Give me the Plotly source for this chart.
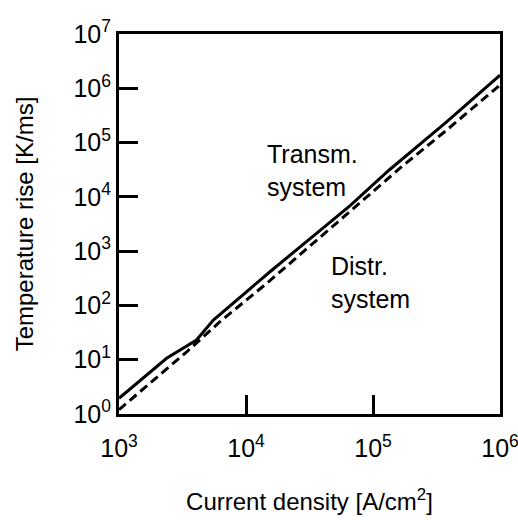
import plotly.graph_objects as go

# Transmission system (solid)
transm_x = [1000, 2371, 4074, 5534, 15450, 66070, 134900, 380000, 1000000]
transm_y = [1.95, 10.6, 23.1, 53.8, 417, 6920, 31600, 240000, 1740000]

# Distribution system (dashed)
distr_x = [1000, 1754, 3412, 6237, 14560, 168300, 380200, 1000000]
distr_y = [1.2, 3.67, 14.0, 50.1, 255, 35890, 169800, 1150000]

x_tickvals = [1e3, 1e4, 1e5, 1e6]
x_ticktext = ["10<sup>3</sup>", "10<sup>4</sup>", "10<sup>5</sup>", "10<sup>6</sup>"]
y_tickvals = [1e0, 1e1, 1e2, 1e3, 1e4, 1e5, 1e6, 1e7]
y_ticktext = ["10<sup>%d</sup>" % i for i in range(8)]

FONT = "Liberation Sans"

fig = go.Figure()
fig.add_trace(go.Scatter(x=transm_x, y=transm_y, mode="lines",
                         line=dict(color="black", width=3),
                         showlegend=False, hoverinfo="skip"))
fig.add_trace(go.Scatter(x=distr_x, y=distr_y, mode="lines",
                         line=dict(color="black", width=3, dash="9px,5px"),
                         showlegend=False, hoverinfo="skip"))

axis_common = dict(
    type="log", showgrid=False, zeroline=False, automargin=False,
    showline=True, linecolor="black", linewidth=3, mirror=True,
    ticks="inside", ticklen=19, tickwidth=3, tickcolor="black",
    ticklabeloverflow="allow",
    tickfont=dict(family=FONT, size=25, color="black"),
)

fig.update_xaxes(range=[3, 6], tickvals=x_tickvals, ticktext=x_ticktext,
                 ticklabelstandoff=10,
                 title=dict(text="Current density [A/cm<sup>2</sup>]",
                            font=dict(family=FONT, size=24, color="black"), standoff=33),
                 **axis_common)
fig.update_yaxes(range=[0, 7], tickvals=y_tickvals, ticktext=y_ticktext,
                 title=dict(text="Temperature rise [K/ms]",
                            font=dict(family=FONT, size=24, color="black"), standoff=34),
                 **axis_common)

fig.add_annotation(x=0.383, y=0.642, xref="paper", yref="paper",
                   text="Transm.<br>system", showarrow=False, align="left",
                   xanchor="left", yanchor="middle",
                   font=dict(family=FONT, size=25, color="black"))
fig.add_annotation(x=0.551, y=0.347, xref="paper", yref="paper",
                   text="Distr.<br>system", showarrow=False, align="left",
                   xanchor="left", yanchor="middle",
                   font=dict(family=FONT, size=25, color="black"))

fig.update_layout(
    width=518, height=520,
    margin=dict(l=119, r=18, t=34, b=106),
    paper_bgcolor="white", plot_bgcolor="white",
    font=dict(family=FONT, color="black"),
)

fig.write_html("out.html", config={"displayModeBar": False},
               post_script="document.body.style.margin='0';document.body.style.overflow='hidden';")
